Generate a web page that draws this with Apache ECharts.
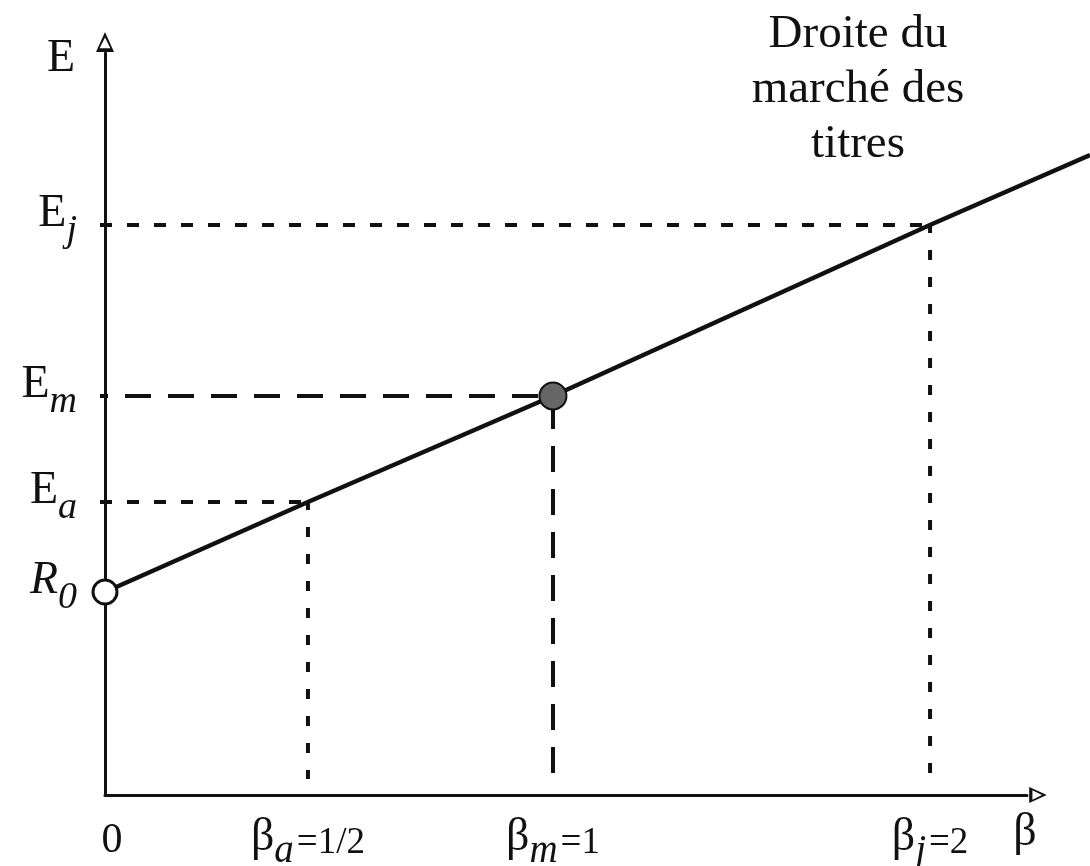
<!DOCTYPE html>
<html>
<head>
<meta charset="utf-8">
<script src="https://cdn.jsdelivr.net/npm/echarts@6/dist/echarts.min.js"></script>
<style>
  html, body { margin: 0; padding: 0; background: #fff; }
  #chart { width: 1090px; height: 866px; }
</style>
</head>
<body>
<div id="chart"></div>
<script>
// positions of the betas along the (not to scale) horizontal axis
const betaPos = [0, 0.492, 1.086, 2.0];
const betaSub = ['', 'a', 'm', 'j'];
const betaVal = ['0', '1/2', '1', '2'];

// expected returns: R0, Ea, Em, Ej
const expReturn = [2.03, 2.93, 3.99, 5.70];
const expSub = ['0', 'a', 'm', 'j'];

// where the security market line leaves the picture
const lineEnd = [2.388, 6.40];

const INK = '#111';
const FONT = '"Liberation Serif", "DejaVu Serif", serif';

const yRich = {
  m: { fontSize: 46, fontFamily: FONT, color: INK },
  mi: { fontSize: 46, fontFamily: FONT, color: INK, fontStyle: 'italic' },
  s: { fontSize: 38, fontFamily: FONT, color: INK, fontStyle: 'italic', padding: [34, 0, 0, 0] }
};
const xRich = {
  z: { fontSize: 42, fontFamily: FONT, color: INK, padding: [16, 0, 0, 14] },
  m: { fontSize: 46, fontFamily: FONT, color: INK },
  s: { fontSize: 39, fontFamily: FONT, color: INK, fontStyle: 'italic', padding: [28, 0, 0, 0] },
  r: { fontSize: 37, fontFamily: FONT, color: INK, padding: [12, 0, 0, 3] }
};

function nearest(arr, v) {
  let best = 0;
  arr.forEach((a, i) => { if (Math.abs(a - v) < Math.abs(arr[best] - v)) best = i; });
  return best;
}

function seg(from, to, style) {
  return {
    type: 'line',
    xAxisIndex: 0,
    yAxisIndex: 0,
    data: [from, to],
    symbol: 'none',
    lineStyle: style,
    silent: true,
    z: 2
  };
}
const dotH = { color: INK, width: 4, type: [12, 15], dashOffset: 5, cap: 'butt' };
const dotV = { color: INK, width: 4, type: [10, 17], dashOffset: 2, cap: 'butt' };
const dashH = { color: INK, width: 4, type: [26, 17], dashOffset: 23, cap: 'butt' };
const dashV = { color: INK, width: 4, type: [26, 17], dashOffset: 36, cap: 'butt' };
const guideFoot = 0.16;

const hollowArrow = 'path://M0,0 L10,22 L-10,22 Z M0,6 L-6,18 L6,18 Z';

const chart = echarts.init(document.getElementById('chart'));
chart.setOption({
  animation: false,
  backgroundColor: '#fff',
  title: {
    text: 'Droite du\nmarché des\ntitres',
    left: 853,
    top: 2,
    textAlign: 'center',
    textStyle: { fontFamily: FONT, fontSize: 47, fontWeight: 'normal', lineHeight: 55, color: INK }
  },
  grid: [
    { left: 105, right: 63, top: 53, bottom: 71, outerBoundsMode: 'none' },
    { left: 105, right: 0, top: 53, bottom: 71, outerBoundsMode: 'none' }
  ],
  xAxis: [{
    type: 'value',
    gridIndex: 0,
    min: 0,
    max: 2.235,
    splitLine: { show: false },
    axisLine: {
      lineStyle: { color: INK, width: 3 },
      symbol: ['none', hollowArrow],
      symbolSize: [16, 23],
      symbolOffset: [0, 11]
    },
    axisTick: { show: false },
    axisLabel: {
      customValues: betaPos,
      margin: 9,
      verticalAlign: 'top',
      rich: xRich,
      formatter: v => {
        const i = nearest(betaPos, v);
        if (i === 0) return '{z|0}';
        return '{m|β}{s|' + betaSub[i] + '}{r|=' + betaVal[i] + '}';
      }
    },
    name: 'β',
    nameLocation: 'end',
    nameGap: -2,
    nameTextStyle: {
      fontFamily: FONT, fontSize: 46, color: INK,
      align: 'center', verticalAlign: 'top', padding: [15, 0, 0, 0]
    }
  }, {
    type: 'value',
    gridIndex: 1,
    min: 0,
    max: 2.388,
    show: false
  }],
  yAxis: [{
    type: 'value',
    gridIndex: 0,
    min: 0,
    max: 7.42,
    splitLine: { show: false },
    axisLine: {
      lineStyle: { color: INK, width: 3 },
      symbol: ['none', hollowArrow],
      symbolSize: [18, 23],
      symbolOffset: [0, 11]
    },
    axisTick: { show: true, customValues: expReturn.slice(1), length: 5, lineStyle: { color: INK, width: 4 } },
    axisLabel: {
      customValues: expReturn,
      margin: 28,
      padding: [0, 0, 22, 0],
      rich: yRich,
      formatter: v => {
        const i = nearest(expReturn, v);
        if (i === 0) return '{mi|R}{s|' + expSub[i] + '}';
        return '{m|E}{s|' + expSub[i] + '}';
      }
    },
    name: 'E',
    nameLocation: 'end',
    nameGap: -6,
    nameTextStyle: {
      fontFamily: FONT, fontSize: 46, color: INK,
      align: 'right', verticalAlign: 'middle', padding: [0, 30, 0, 0]
    }
  }, {
    type: 'value',
    gridIndex: 1,
    min: 0,
    max: 7.42,
    show: false
  }],
  series: [
    seg([0, expReturn[1]], [betaPos[1], expReturn[1]], dotH),
    seg([betaPos[1], expReturn[1]], [betaPos[1], guideFoot], dotV),
    seg([0, expReturn[2]], [betaPos[2], expReturn[2]], dashH),
    seg([betaPos[2], expReturn[2]], [betaPos[2], guideFoot], dashV),
    seg([0, expReturn[3]], [betaPos[3], expReturn[3]], dotH),
    seg([betaPos[3], expReturn[3]], [betaPos[3], guideFoot], dotV),
    {
      name: 'Droite du marché des titres',
      type: 'line',
      xAxisIndex: 1,
      yAxisIndex: 1,
      data: [[betaPos[0], expReturn[0]], [betaPos[1], expReturn[1]], [betaPos[2], expReturn[2]], [betaPos[3], expReturn[3]], lineEnd],
      symbol: 'none',
      clip: false,
      lineStyle: { color: INK, width: 4.5 },
      z: 3
    },
    {
      type: 'scatter',
      xAxisIndex: 1,
      yAxisIndex: 1,
      data: [[betaPos[0], expReturn[0]]],
      symbolSize: 24,
      clip: false,
      itemStyle: { color: '#fff', borderColor: INK, borderWidth: 3, opacity: 1 },
      z: 5
    },
    {
      type: 'scatter',
      xAxisIndex: 1,
      yAxisIndex: 1,
      data: [[betaPos[2], expReturn[2]]],
      symbolSize: 27,
      itemStyle: { color: '#666', borderColor: INK, borderWidth: 2, opacity: 1 },
      z: 5
    }
  ]
});
</script>
</body>
</html>
